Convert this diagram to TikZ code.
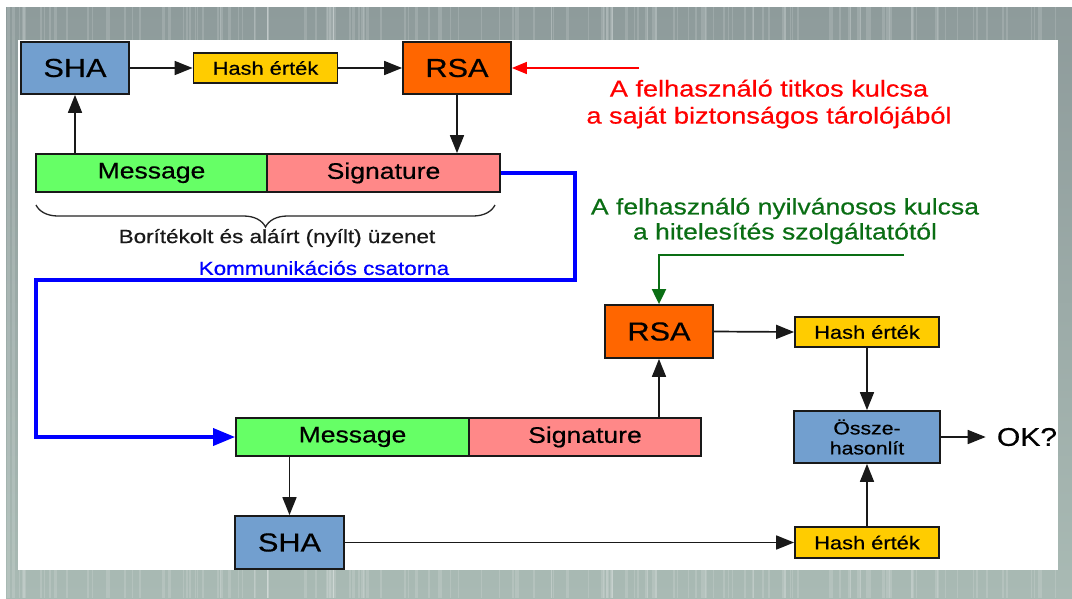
\documentclass[tikz,border=0pt]{standalone}
\usepackage{fontspec}
\setmainfont{Liberation Sans}[FakeStretch=1.18,FakeBold=0.5]
\usetikzlibrary{arrows.meta,decorations.pathreplacing,calc}
\definecolor{shablue}{HTML}{729FCF}
\definecolor{hashyellow}{HTML}{FFCC00}
\definecolor{rsaorange}{HTML}{FF6600}
\definecolor{msggreen}{HTML}{66FF66}
\definecolor{sigpink}{HTML}{FF8888}
\definecolor{chanblue}{HTML}{0000FF}
\definecolor{keyred}{HTML}{FF0000}
\definecolor{keygreen}{HTML}{0A6E14}
\definecolor{frametop}{HTML}{8E9B9B}
\definecolor{framebot}{HTML}{A9BAB4}
\begin{document}
\begin{tikzpicture}[x=1pt,y=-1pt,
  box/.style={draw=black!90,line width=1.8pt,inner sep=0pt,text=black,align=center},
  bigbox/.style={box,minimum width=108pt,minimum height=52pt,font=\fontsize{26}{30}\selectfont},
  hashbox/.style={box,fill=hashyellow,minimum width=144pt,minimum height=30pt,font=\fontsize{18.5}{22}\selectfont},
  partbox/.style={box,minimum height=38pt,font=\fontsize{22.5}{26}\selectfont},
  arr/.style={draw=black!90,line width=1.7pt,-{Triangle[length=18pt,width=14pt]}},
  lbl/.style={inner sep=0pt,align=center}
]
% page and slide frame
\useasboundingbox (0,0) rectangle (1072,598);
\fill[white] (0,0) rectangle (1072,598);
\shade[top color=frametop,bottom color=framebot] (6,7) rectangle (1072,598);
\pgfmathsetseed{11}
\foreach \i in {1,...,150}{
  \pgfmathsetmacro\sx{6+rnd*1060}
  \pgfmathsetmacro\sw{0.6+rnd*2.4}
  \fill[white,opacity=0.14] (\sx,7) rectangle ++(\sw,591);
}
\fill[white] (18,40) rectangle (1058,570);

% sender side
\node[bigbox,fill=shablue] (sha1) at (75,68) {SHA};
\node[hashbox] (hash1) at (265.5,68) {Hash érték};
\node[bigbox,fill=rsaorange] (rsa1) at (457,68) {RSA};
\node[partbox,fill=msggreen,minimum width=231pt] (msg1) at (151.5,173) {Message};
\node[partbox,fill=sigpink,minimum width=233pt] (sig1) at (383.5,173) {Signature};

\draw[arr] (msg1.north -| sha1) -- (sha1.south);
\draw[arr] (sha1.east) -- (hash1.west);
\draw[arr] (hash1.east) -- (rsa1.west);
\draw[arr] (rsa1.south) -- (rsa1.south |- sig1.north);

% private key
\coordinate (privsrc) at (639,68);
\draw[keyred,line width=1.6pt,-{Triangle[length=15pt,width=12pt]}] (privsrc) -- (rsa1.east);
\node[lbl,text=keyred,font=\fontsize{23}{27}\selectfont] (privkey) at (769,104)
  {A felhasználó titkos kulcsa\\a saját biztonságos tárolójából};

% envelope brace
\draw[black!85,line width=1.3pt,decorate,decoration={brace,amplitude=22pt}] (495,205) -- (36,205);
\node[lbl,text=black!90,font=\fontsize{19}{22}\selectfont] (envlbl) at (277,238)
  {Borítékolt és aláírt (nyílt) üzenet};

% channel
\node[lbl,text=chanblue,font=\fontsize{19}{22}\selectfont] (chan) at (324,268) {Kommunikációs csatorna};

% receiver side
\node[partbox,fill=msggreen,minimum width=233pt] (msg2) at (352.5,437) {Message};
\node[partbox,fill=sigpink,minimum width=232pt] (sig2) at (585,437) {Signature};
\node[bigbox,fill=shablue,minimum width=109pt,minimum height=53pt] (sha2) at (289.5,542.5) {SHA};
\node[bigbox,fill=rsaorange,minimum height=53pt] (rsa2) at (659,331.5) {RSA};
\node[hashbox] (hash2) at (867,332) {Hash érték};
\node[box,fill=shablue,minimum width=146pt,minimum height=52pt,font=\fontsize{18}{20}\selectfont] (cmp) at (867,437) {Össze-\\hasonlít};
\node[hashbox,minimum height=31pt] (hash3) at (867,542.5) {Hash érték};
\node[lbl,font=\fontsize{25.5}{30}\selectfont] (ok) at (1027,437) {OK?};

\draw[chanblue,line width=3.6pt,line join=miter,-{Triangle[length=22pt,width=17pt]}]
  (sig1.east) -- ($(sig1.east)+(74,0)$) |- (36,280) |- (msg2.west);

% public key
\coordinate (pubsrc) at (904,255);
\draw[keygreen,line width=2pt,-{Triangle[length=15pt,width=14pt]}] (pubsrc) -- (pubsrc -| rsa2.north) -- (rsa2.north);
\node[lbl,text=keygreen,font=\fontsize{22.5}{25}\selectfont] (pubkey) at (785,221)
  {A felhasználó nyilvánosos kulcsa\\a hitelesítés szolgáltatótól};

\draw[arr] (sig2.north -| rsa2) -- (rsa2.south);
\draw[arr] (rsa2.east) -- (hash2.west);
\draw[arr] (hash2.south) -- (cmp.north);
\draw[arr] (hash3.north) -- (cmp.south);
\draw[arr] (msg2.south -| sha2) -- (sha2.north);
\draw[arr] (sha2.east) -- (hash3.west);
\draw[arr,shorten >=11pt] (cmp.east) -- (ok.west);
\end{tikzpicture}
\end{document}
